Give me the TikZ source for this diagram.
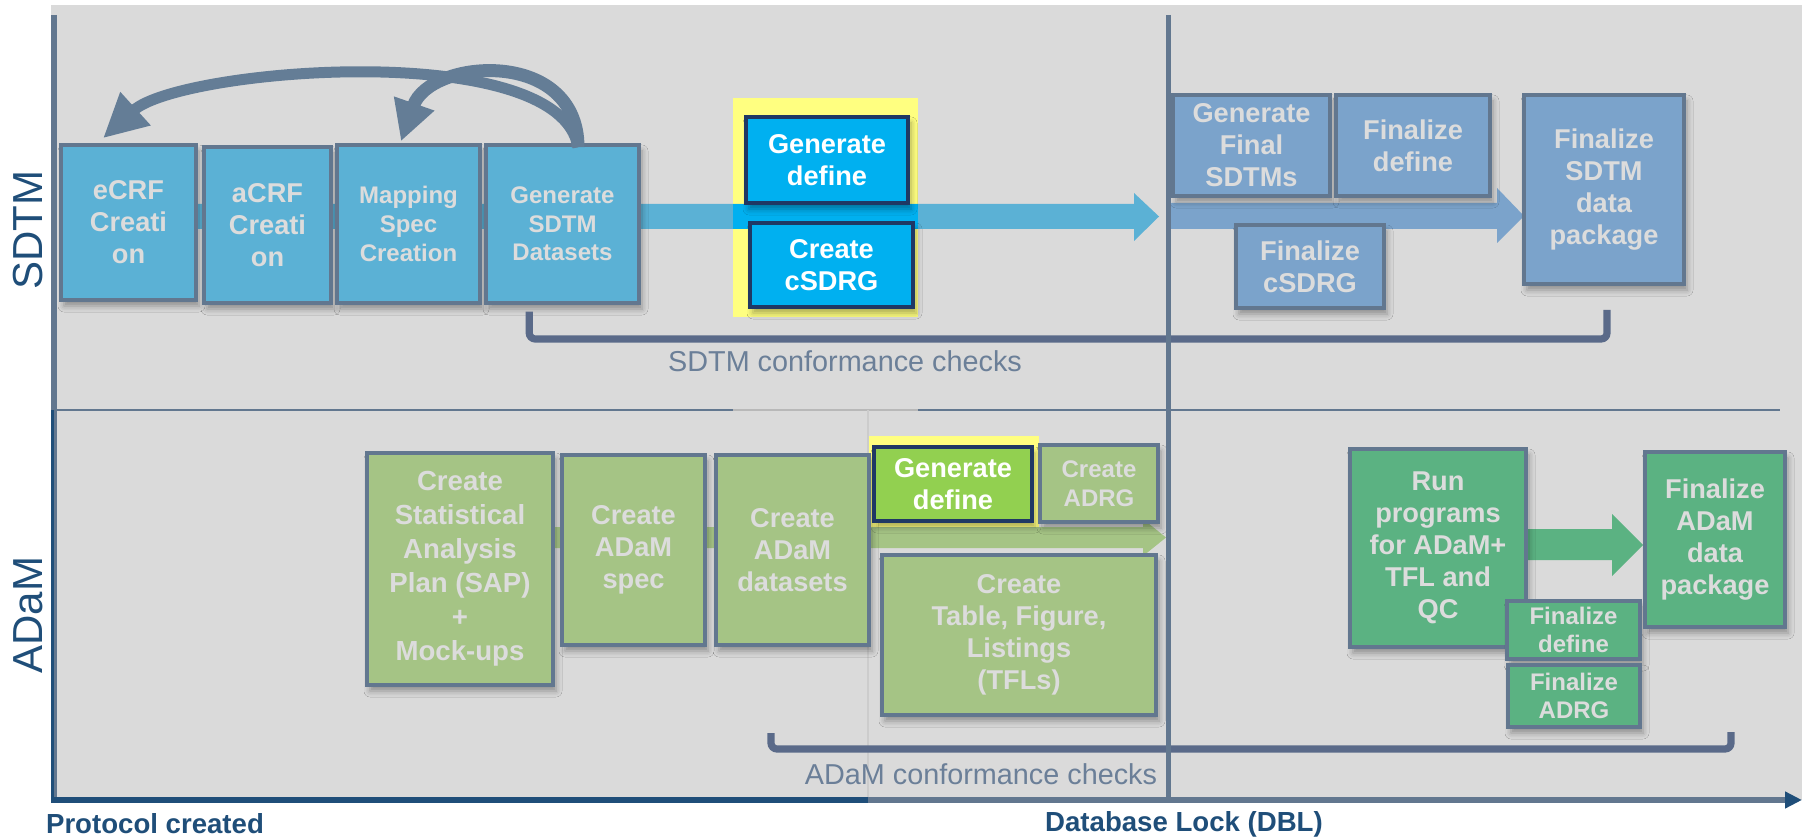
\documentclass[tikz,border=0pt]{standalone}
\usepackage{fontspec}
\setmainfont{Liberation Sans}
\usetikzlibrary{arrows.meta,calc,shadows.blur}

\definecolor{panel}{HTML}{DADADA}
\definecolor{slate}{HTML}{62778F}
\definecolor{navy}{HTML}{1F4E79}
\definecolor{hinavy}{HTML}{1F3864}
\definecolor{bracket}{HTML}{5A6A89}
\definecolor{checktext}{HTML}{6B7F98}
\definecolor{boxtext}{HTML}{DCDCDC}
\definecolor{sdtmL}{HTML}{5BB1D5}
\definecolor{sdtmR}{HTML}{7BA3CB}
\definecolor{cyanhi}{HTML}{00B0F0}
\definecolor{hiyellow}{HTML}{FFFF80}
\definecolor{adamL}{HTML}{A5C485}
\definecolor{greenhi}{HTML}{92D050}
\definecolor{adamR}{HTML}{5BB282}
\definecolor{arcline}{HTML}{647D96}

\newcommand\bigboxfont{\bfseries\fontsize{13.6}{16}\selectfont}
\newcommand\sapboxfont{\bfseries\fontsize{13.8}{17}\selectfont}
\newcommand\smallboxfont{\bfseries\fontsize{12}{14.3}\selectfont}

\tikzset{
  wh/.style 2 args={minimum width=#1*0.5pt, minimum height=#2*0.5pt},
  box/.style={draw=slate, line width=1.75pt, inner sep=0pt, align=center,
    text=boxtext, font=\bigboxfont,
    blur shadow={shadow xshift=1.5pt, shadow yshift=-3pt,
      shadow blur radius=3pt, shadow opacity=35}},
  smallbox/.style={box, font=\smallboxfont},
  hibox/.style={box, draw=hinavy, line width=2.1pt, text=white},
  arc/.style={draw=arcline, line width=5.5pt},
  checkbracket/.style={draw=bracket, line width=3.6pt, rounded corners=3pt},
  checklabel/.style={text=checktext, font=\fontsize{14.4}{16}\selectfont, inner sep=0pt},
  sidelabel/.style={text=navy, font=\fontsize{21}{24}\selectfont, rotate=90, inner sep=0pt},
  milestone/.style={text=navy, font=\bfseries\fontsize{13.8}{16}\selectfont, inner sep=0pt},
}

\begin{document}
\begin{tikzpicture}[x=0.5pt,y=-0.5pt]
\useasboundingbox (0,0) rectangle (1802,839);

% panel
\fill[panel] (51,5) rectangle (1802,800);

% lane divider
\draw[slate, line width=1.3pt] (54,410) -- (1780,410);
\draw[black!28, line width=1.3pt] (733,410) -- (918,410);
\draw[black!20, line width=0.8pt] (868,410) -- (868,800);

% highlight backgrounds
\fill[hiyellow] (733,98) rectangle (918,317);
\fill[hiyellow] (869,436) rectangle (1039,537);

% flow bands
\fill[sdtmL] (150,204) -- (1134,204) -- (1134,193) -- (1159,216.5)
  -- (1134,241) -- (1134,229) -- (150,229) -- cycle;
\fill[cyanhi] (733,204) rectangle (918,229);
\fill[sdtmR] (1168,203) -- (1497,203) -- (1497,188) -- (1524,216)
  -- (1497,243) -- (1497,229) -- (1168,229) -- cycle;
\fill[adamL] (470,527) -- (1143,527) -- (1143,519) -- (1166,537.5)
  -- (1143,556) -- (1143,548) -- (470,548) -- cycle;
\fill[adamR] (1520,529) -- (1612,529) -- (1612,514) -- (1643,545)
  -- (1612,576) -- (1612,560) -- (1520,560) -- cycle;

% SDTM lane
\node[box, fill=sdtmL, wh={135}{155}] (ecrf) at (128.5,222.5) {eCRF\\Creati\\on};
\node[box, fill=sdtmL, wh={127}{156}] (acrf) at (267.5,225) {aCRF\\Creati\\on};
\node[smallbox, fill=sdtmL, wh={143}{158}] (mapping) at (408.5,224) {Mapping\\Spec\\Creation};
\node[smallbox, fill=sdtmL, wh={153}{158}] (gensdtm) at (562.5,224) {Generate\\SDTM\\Datasets};
\node[hibox, fill=cyanhi, wh={162}{86}] (gendefS) at (827,160) {Generate\\define};
\node[hibox, fill=cyanhi, wh={163}{84}] (csdrg) at (831.5,265) {Create\\cSDRG};
\node[box, fill=sdtmR, wh={157}{101}] (genfinal) at (1251.5,145.5) {Generate\\Final\\SDTMs};
\node[box, fill=sdtmR, wh={154}{101}] (findefS) at (1413,145.5) {Finalize\\define};
\node[box, fill=sdtmR, wh={148}{83}] (fincsdrg) at (1310,266.5) {Finalize\\cSDRG};
\node[box, fill=sdtmR, wh={160}{189}] (sdtmpkg) at (1604,189.5) {Finalize\\SDTM\\data\\package};

% ADaM lane
\node[box, font=\sapboxfont, fill=adamL, wh={186}{232}] (sap) at (460,569)
  {Create\\Statistical\\Analysis\\Plan (SAP)\\+\\Mock-ups};
\node[box, fill=adamL, wh={143}{190}] (spec) at (633.5,550) {Create\\ADaM\\spec};
\node[box, fill=adamL, wh={153}{190}] (datasets) at (792.5,550) {Create\\ADaM\\datasets};
\node[hibox, fill=greenhi, wh={158}{74}] (gendefA) at (953,484) {Generate\\define};
\node[smallbox, fill=adamL, wh={118}{77}] (adrg) at (1099,483.5) {Create\\ADRG};
\node[box, fill=adamL, wh={274}{160}] (tfl) at (1019,635) {Create\\Table, Figure,\\Listings\\(TFLs)};
\node[box, fill=adamR, wh={176}{198}] (runprog) at (1438,548) {Run\\programs\\for ADaM+\\TFL and\\QC};
\node[smallbox, fill=adamR, wh={133}{58}] (findefA) at (1573.5,630) {Finalize\\define};
\node[smallbox, fill=adamR, wh={132}{62}] (finadrg) at (1574,696) {Finalize\\ADRG};
\node[box, fill=adamR, wh={140}{175}] (adampkg) at (1715,539.5) {Finalize\\ADaM\\data\\package};

% feedback arcs from dataset generation
\draw[arc, -{Triangle[length=22pt,width=21pt]}]
  ($(gensdtm.north)+(15.5,4)$) .. controls +(-18,-110) and +(77,-70) .. ($(ecrf.north)+(-25.5,-5)$);
\draw[arc, line width=6.5pt, -{Triangle[length=20pt,width=20pt]}]
  ($(gensdtm.north)+(15.5,4)$) .. controls +(0,-100) and +(29,-83) .. ($(mapping.north)+(-7.5,-2)$);

% conformance check brackets
\coordinate (sc1) at ($(gensdtm.south west)+(45,7)$);
\coordinate (sc2) at (1607,310);
\draw[checkbracket] (sc1) |- (1607,339) -- (sc2);
\node[checklabel] (sdtmcheck) at (845,361) {SDTM conformance checks};
\coordinate (ac1) at (771,733);
\coordinate (ac2) at (1731,732);
\draw[checkbracket] (ac1) |- (1731,749) -- (ac2);
\node[checklabel] (adamcheck) at (981,774) {ADaM conformance checks};

% time axes
\draw[slate, line width=3pt] (54,15) -- (54,800);
\draw[navy, line width=1.6pt] (52.5,410) -- (52.5,800);
\draw[slate, line width=2.5pt] (1168,15) -- (1168,800);
\coordinate (axisstart) at (51,800);
\coordinate (axisend) at (1802,800);
\draw[slate, line width=2.6pt, -{Triangle[length=8.5pt,width=8pt,color=navy]}] (868,800) -- (axisend);
\draw[navy, line width=2.6pt] (axisstart) -- (868,800);

% lane titles
\node[sidelabel] (sdtmlane) at (28,230) {SDTM};
\node[sidelabel] (adamlane) at (28,615) {ADaM};

% milestones
\node[milestone] (protocol) at (155,824) {Protocol created};
\node[milestone] (dbl) at (1184,824) {Database Lock (DBL)};
\end{tikzpicture}
\end{document}
